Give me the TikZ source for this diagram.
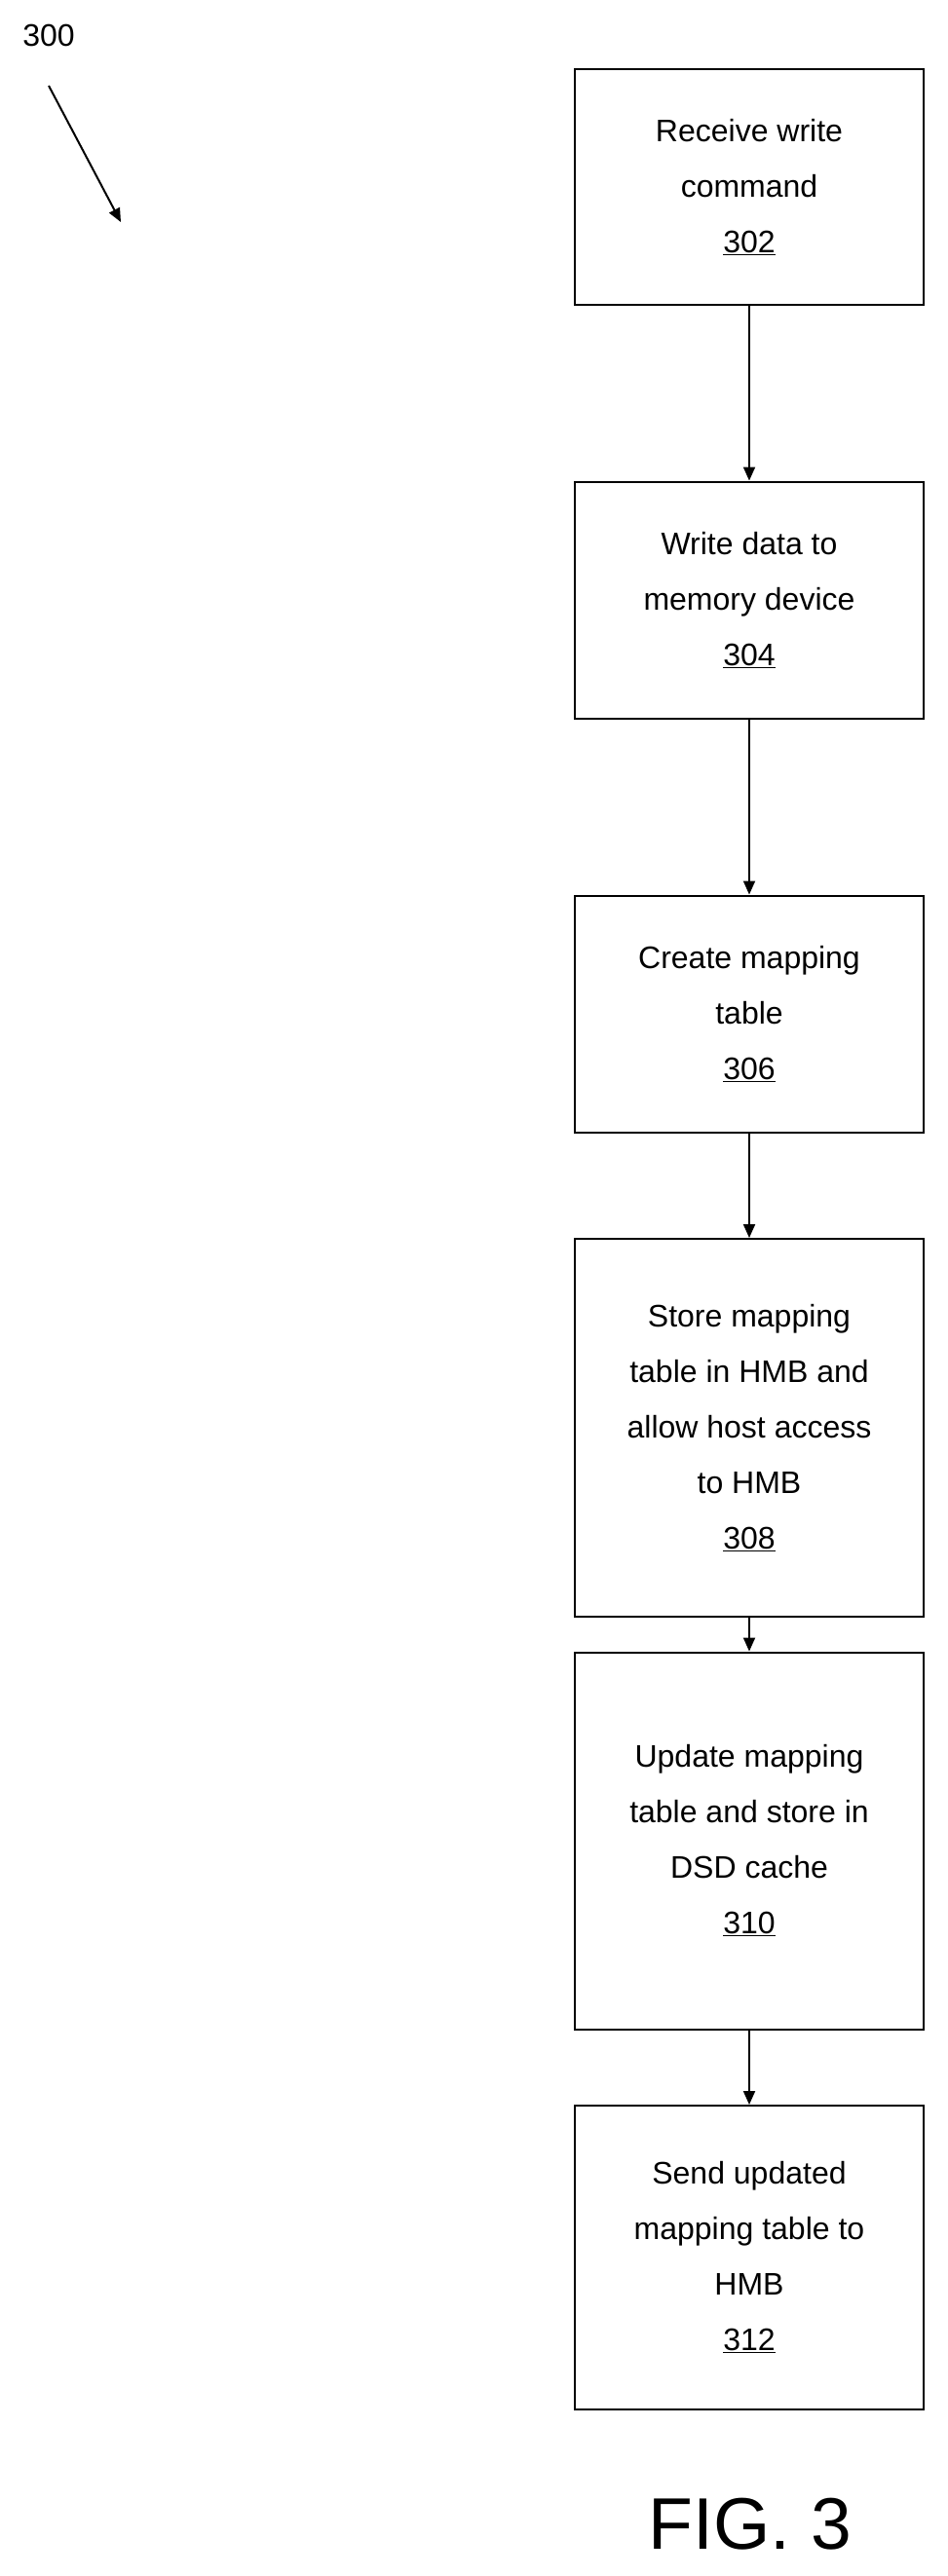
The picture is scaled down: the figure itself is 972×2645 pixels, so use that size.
\documentclass[tikz,border=0pt]{standalone}
\usepackage{fontspec}
\setmainfont{Liberation Sans}
\usetikzlibrary{arrows.meta}
\begin{document}
\begin{tikzpicture}[x=1pt,y=-1pt,
 box/.style={draw,line width=2pt,minimum width=358pt,align=center,font=\fontsize{32}{57}\selectfont,inner sep=0pt},
 arr/.style={line width=2pt,-{Triangle[length=14pt,width=12pt]}}]
\useasboundingbox (0,0) rectangle (972,2645);
\node[box,minimum height=242pt] (b302) at (769,192) {Receive write\\command\\\underline{302}};
\node[box,minimum height=243pt] (b304) at (769,616) {Write data to\\memory device\\\underline{304}};
\node[box,minimum height=243pt] (b306) at (769,1041) {Create mapping\\table\\\underline{306}};
\node[box,minimum height=388pt] (b308) at (769,1466) {Store mapping\\table in HMB and\\allow host access\\to HMB\\\underline{308}};
\node[box,minimum height=387pt] (b310) at (769,1890) {Update mapping\\table and store in\\DSD cache\\\underline{310}};
\node[box,minimum height=312pt] (b312) at (769,2318) {Send updated\\mapping table to\\HMB\\\underline{312}};
\foreach \a/\b in {b302/b304,b304/b306,b306/b308,b308/b310,b310/b312}
  \draw[arr] (\a.south) -- (\b.north);
\node[font=\fontsize{75}{80}\selectfont] (fig) at (770,2592) {FIG. 3};
\node[font=\fontsize{32}{36}\selectfont] (lbl) at (50,36) {300};
\coordinate (s) at (50,88);
\coordinate (e) at (124,228);
\draw[arr] (s) -- (e);
\end{tikzpicture}
\end{document}
